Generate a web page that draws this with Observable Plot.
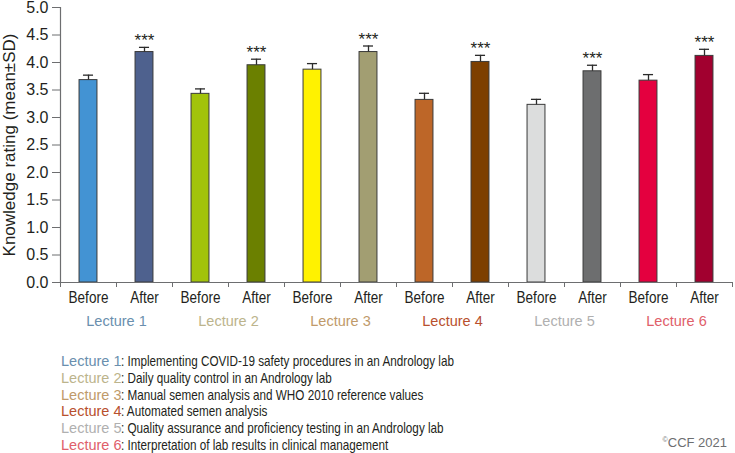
<!DOCTYPE html>
<html>
<head>
<meta charset="utf-8">
<script src="https://cdn.jsdelivr.net/npm/d3@7"></script>
<script src="https://cdn.jsdelivr.net/npm/@observablehq/plot@0.6"></script>
<style>
  html, body { margin: 0; padding: 0; background: #fff; }
  #wrap { position: relative; width: 735px; height: 453px; font-family: "Liberation Sans", Arial, sans-serif; }
  #legend { position: absolute; left: 61px; top: 353px; font-size: 15px; line-height: 16.8px; color: #231f20; white-space: nowrap; }
  #legend .lec { font-size: 14.5px; }
  #legend .desc { display: inline-block; transform: scaleX(0.78); transform-origin: left center; }
  #credit { position: absolute; right: 8px; top: 435px; font-size: 13px; color: #6d6e70; }
  #credit sup { font-size: 7px; }
</style>
</head>
<body>
<div id="wrap"><div id="chart"></div><div id="legend"></div><div id="credit"><sup>©</sup>CCF 2021</div></div>
<script>
const lectures = ["Lecture 1", "Lecture 2", "Lecture 3", "Lecture 4", "Lecture 5", "Lecture 6"];
const titles = [
  "Implementing COVID-19 safety procedures in an Andrology lab",
  "Daily quality control in an Andrology lab",
  "Manual semen analysis and WHO 2010 reference values",
  "Automated semen analysis",
  "Quality assurance and proficiency testing in an Andrology lab",
  "Interpretation of lab results in clinical management"
];
const phases = ["Before", "After"];
const beforeMean = [3.68, 3.43, 3.87, 3.32, 3.23, 3.67];
const beforeSD   = [0.09, 0.09, 0.11, 0.12, 0.10, 0.11];
const afterMean  = [4.19, 3.95, 4.19, 4.01, 3.84, 4.12];
const afterSD    = [0.085, 0.11, 0.11, 0.12, 0.11, 0.12];
const significance = ["***", "***", "***", "***", "***", "***"];
const beforeColors = ["#4393d3", "#a2c30b", "#fff200", "#bd6628", "#dcdddd", "#e4003f"];
const afterColors  = ["#4e618e", "#6b8000", "#a29e72", "#7d3f00", "#6d6e6f", "#a1002f"];
const lectureColors = ["#6a8fae", "#bcb48c", "#c09a6a", "#b8502e", "#b0b0b0", "#e0606a"];
const yTicks = [0, 0.5, 1, 1.5, 2, 2.5, 3, 3.5, 4, 4.5, 5];

// Build table
const data = [];
lectures.forEach((lec, i) => {
  data.push({lecture: lec, phase: phases[0], mean: beforeMean[i], sd: beforeSD[i], color: beforeColors[i], pos: 2 * i, sig: ""});
  data.push({lecture: lec, phase: phases[1], mean: afterMean[i], sd: afterSD[i], color: afterColors[i], pos: 2 * i + 1, sig: significance[i]});
});
const lecData = lectures.map((l, i) => ({lecture: l, pos: 2 * i + 1, color: lectureColors[i]}));
const half = 0.16, cap = 0.09;
const ctr = d => d.pos + 0.5;
const font = "Liberation Sans, Arial, sans-serif";

const chart = Plot.plot({
  width: 735,
  height: 345,
  marginLeft: 60,
  marginRight: 3,
  marginTop: 7,
  marginBottom: 63,
  style: {fontFamily: font, color: "#231f20", background: "transparent"},
  x: {domain: [0, 2 * lectures.length]},
  y: {domain: [0, 5]},
  marks: [
    Plot.rectY(data, {x1: d => ctr(d) - half, x2: d => ctr(d) + half, y: "mean", fill: "color", stroke: "#3a3a3a", strokeWidth: 1}),
    Plot.ruleX(data, {x: ctr, y1: "mean", y2: d => d.mean + d.sd, stroke: "#2b2b2b", strokeWidth: 1.3}),
    Plot.ruleY(data, {y: d => d.mean + d.sd, x1: d => ctr(d) - cap, x2: d => ctr(d) + cap, stroke: "#2b2b2b", strokeWidth: 1.3}),
    Plot.text(data.filter(d => d.sig), {x: ctr, y: d => d.mean + d.sd, text: "sig", dy: -1, fontSize: 17, lineAnchor: "bottom", fill: "#231f20"}),
    Plot.ruleX([0], {y1: 0, y2: 5, stroke: "#6d6e70", strokeWidth: 1.2}),
    Plot.ruleY([0], {x1: 0, x2: 2 * lectures.length, stroke: "#6d6e70", strokeWidth: 1.2}),
    Plot.axisY({ticks: yTicks, tickFormat: d3.format(".1f"), tickSize: 8, tickPadding: 4, fontSize: 16, stroke: "#6d6e70",
      label: "Knowledge rating (mean±SD)", labelAnchor: "center", labelArrow: "none", labelOffset: 58}),
    Plot.axisX({ticks: d3.range(0, 2 * lectures.length + 1), tickSize: 5, tickFormat: () => "", stroke: "#6d6e70", label: null}),
    Plot.text(data, {x: ctr, text: "phase", frameAnchor: "bottom", dy: 20, fontSize: 16.5, fill: "#231f20", className: "phase-label"}),
    Plot.text(lecData, {x: "pos", text: "lecture", frameAnchor: "bottom", dy: 43, fontSize: 14.5, fill: "color"})
  ]
});
chart.querySelectorAll("text").forEach(t => {
  if (t.textContent.startsWith("Knowledge")) t.setAttribute("font-size", 17);
});
document.getElementById("chart").appendChild(chart);
// condense the Before/After labels (narrow face look)
chart.querySelectorAll(".phase-label text").forEach(t => {
  const w = t.getComputedTextLength();
  t.setAttribute("textLength", (w * 0.82).toFixed(1));
  t.setAttribute("lengthAdjust", "spacingAndGlyphs");
});

const legend = document.getElementById("legend");
lectures.forEach((l, i) => {
  const div = document.createElement("div");
  const s = document.createElement("span");
  s.className = "lec";
  s.style.color = lectureColors[i];
  s.textContent = l;
  const d = document.createElement("span");
  d.className = "desc";
  d.textContent = ": " + titles[i];
  div.appendChild(s);
  div.appendChild(d);
  legend.appendChild(div);
});
</script>
</body>
</html>
